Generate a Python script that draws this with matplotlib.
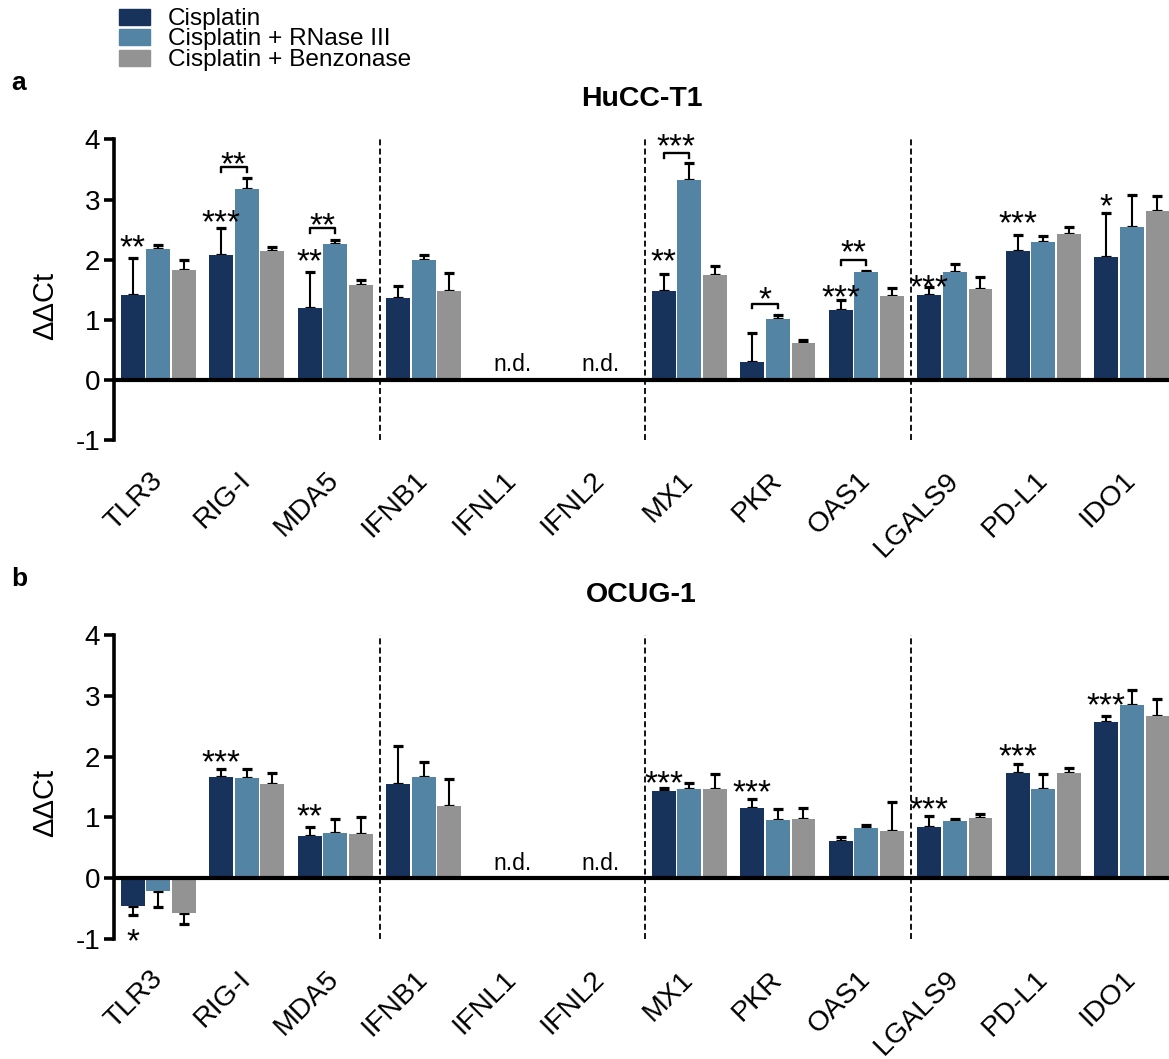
import numpy as np
import matplotlib.pyplot as plt
from matplotlib.patches import Rectangle

plt.rcParams['font.family'] = ['Liberation Sans', 'DejaVu Sans']

genes = ['TLR3', 'RIG-I', 'MDA5', 'IFNB1', 'IFNL1', 'IFNL2',
         'MX1', 'PKR', 'OAS1', 'LGALS9', 'PD-L1', 'IDO1']
groups = ['Cisplatin', 'Cisplatin + RNase III', 'Cisplatin + Benzonase']
colors = ['#17325b', '#5384a3', '#939393']
nan = np.nan

# HuCC-T1
hucc_cis = [1.42, 2.07, 1.20, 1.36, nan, nan, 1.48, 0.30, 1.16, 1.41, 2.14, 2.04]
hucc_cis_err = [0.61, 0.45, 0.60, 0.21, nan, nan, 0.29, 0.49, 0.17, 0.13, 0.27, 0.73]
hucc_rnase = [2.18, 3.17, 2.26, 1.99, nan, nan, 3.32, 1.01, 1.79, 1.79, 2.29, 2.55]
hucc_rnase_err = [0.07, 0.18, 0.07, 0.09, nan, nan, 0.29, 0.07, 0.02, 0.14, 0.10, 0.52]
hucc_benz = [1.83, 2.14, 1.58, 1.48, nan, nan, 1.74, 0.61, 1.40, 1.51, 2.43, 2.81]
hucc_benz_err = [0.16, 0.07, 0.09, 0.30, nan, nan, 0.15, 0.06, 0.13, 0.20, 0.12, 0.24]

# OCUG-1
ocug_cis = [-0.45, 1.67, 0.69, 1.55, nan, nan, 1.43, 1.15, 0.61, 0.84, 1.73, 2.57]
ocug_cis_err = [0.16, 0.13, 0.16, 0.62, nan, nan, 0.05, 0.15, 0.06, 0.18, 0.15, 0.10]
ocug_rnase = [-0.21, 1.65, 0.75, 1.66, nan, nan, 1.46, 0.95, 0.82, 0.94, 1.46, 2.85]
ocug_rnase_err = [0.26, 0.14, 0.22, 0.25, nan, nan, 0.10, 0.19, 0.05, 0.04, 0.26, 0.24]
ocug_benz = [-0.58, 1.55, 0.72, 1.18, nan, nan, 1.46, 0.98, 0.77, 0.99, 1.73, 2.67]
ocug_benz_err = [0.18, 0.18, 0.29, 0.45, nan, nan, 0.25, 0.17, 0.48, 0.06, 0.08, 0.28]

# significance: (gene index, star centre y, text) above/below the cisplatin bar
hucc_stars = [(0, 2.36, '**'), (1, 2.77, '***'), (2, 2.13, '**'), (6, 2.12, '**'),
              (8, 1.52, '***'), (9, 1.69, '***'), (10, 2.75, '***'), (11, 3.04, '*')]
# brackets cisplatin vs rnase: (gene index, bracket top y, star centre y, text)
hucc_brackets = [(1, 3.54, 3.74, '**'), (2, 2.53, 2.72, '**'), (6, 3.77, 4.03, '***'),
                 (7, 1.27, 1.50, '*'), (8, 1.99, 2.27, '**')]
ocug_stars = [(0, -0.89, '*'), (1, 2.05, '***'), (2, 1.16, '**'), (6, 1.71, '***'),
              (7, 1.56, '***'), (9, 1.28, '***'), (10, 2.16, '***'), (11, 3.00, '***')]
ocug_brackets = []

nd_genes = [4, 5]
separators = [2.5, 5.5, 8.5]

W, H = 1169, 1059
fig = plt.figure(figsize=(W / 100, H / 100), dpi=100)


def px_axes(left, top, right, bottom):
    return fig.add_axes([left / W, 1 - bottom / H, (right - left) / W, (bottom - top) / H])


def draw_panel(ax, series, errs, stars, brackets, title):
    x = np.arange(len(genes))
    pitch = 0.29
    for k, (vals, err) in enumerate(zip(series, errs)):
        vals = np.array(vals)
        err = np.array(err)
        pos = x + (k - 1) * pitch
        ax.bar(pos, vals, width=0.27, color=colors[k], zorder=2)
        lower = np.where(vals < 0, err, 0)
        upper = np.where(vals >= 0, err, 0)
        ax.errorbar(pos, vals, yerr=[lower, upper], fmt='none', ecolor='black',
                    elinewidth=1.5, capsize=3.3, capthick=2.3, zorder=1)
    ax.axhline(0, color='black', lw=3, zorder=3)
    ax.vlines(separators, -1, 4, colors='black', lw=1.3,
              linestyles=(0, (3.3, 1.8)), zorder=1)
    for g in nd_genes:
        ax.text(g, 0.06, 'n.d.', ha='center', va='bottom', fontsize=16.5)
    for g, y, s in stars:
        ax.annotate(s, (g - pitch, y), xytext=(0, -19), textcoords='offset pixels',
                    ha='center', va='baseline', fontsize=24, annotation_clip=False)
    for g, ytop, ys, s in brackets:
        x1, x2 = g - pitch, g
        ax.plot([x1, x1, x2, x2], [ytop - 0.08, ytop, ytop, ytop - 0.08],
                color='black', lw=1.7, clip_on=False, zorder=3)
        ax.annotate(s, ((x1 + x2) / 2, ys), xytext=(0, -19), textcoords='offset pixels',
                    ha='center', va='baseline', fontsize=24, annotation_clip=False)

    ax.set_xlim(-0.5, 11.42)
    ax.set_ylim(-1, 4)
    ax.set_yticks([-1, 0, 1, 2, 3, 4])
    ax.set_yticklabels(['-1', '0', '1', '2', '3', '4'])
    ax.set_xticks(x)
    ax.set_xticklabels(genes)
    for sp in ['top', 'right', 'bottom']:
        ax.spines[sp].set_visible(False)
    ax.spines['left'].set_linewidth(2.6)
    ax.tick_params(axis='y', width=2.6, length=7, pad=3, labelsize=20)
    ax.tick_params(axis='x', length=0, pad=26, labelsize=20.5)
    plt.setp(ax.get_xticklabels(), rotation=45, ha='right', va='center',
             rotation_mode='anchor')
    ax.text(-0.0654, 0.446, 'ΔΔCt', transform=ax.transAxes, rotation=90,
            ha='center', va='center', fontsize=21)
    ax.text(0.5, 1 + 33 / 301, title, transform=ax.transAxes, ha='center',
            va='baseline', fontsize=20.5, fontweight='bold')


ax_a = px_axes(114, 139.3, 1169, 440.3)
draw_panel(ax_a, [hucc_cis, hucc_rnase, hucc_benz],
           [hucc_cis_err, hucc_rnase_err, hucc_benz_err],
           hucc_stars, hucc_brackets, 'HuCC-T1')

ax_b = px_axes(114, 635, 1169, 939)
draw_panel(ax_b, [ocug_cis, ocug_rnase, ocug_benz],
           [ocug_cis_err, ocug_rnase_err, ocug_benz_err],
           ocug_stars, ocug_brackets, 'OCUG-1')

fig.text(11 / W, 1 - 90 / H, 'a', fontsize=19, fontweight='bold', va='baseline')
fig.text(11 / W, 1 - 586 / H, 'b', fontsize=19, fontweight='bold', va='baseline')

# legend
for k, name in enumerate(groups):
    top = [9, 29, 50][k]
    base = [24.5, 45, 66][k]
    fig.add_artist(Rectangle((119 / W, 1 - (top + 15.5) / H), 31 / W, 15.5 / H,
                             transform=fig.transFigure, color=colors[k]))
    fig.text(168 / W, 1 - base / H, name, fontsize=17.6, va='baseline')

fig.savefig('out.png', dpi=100)
